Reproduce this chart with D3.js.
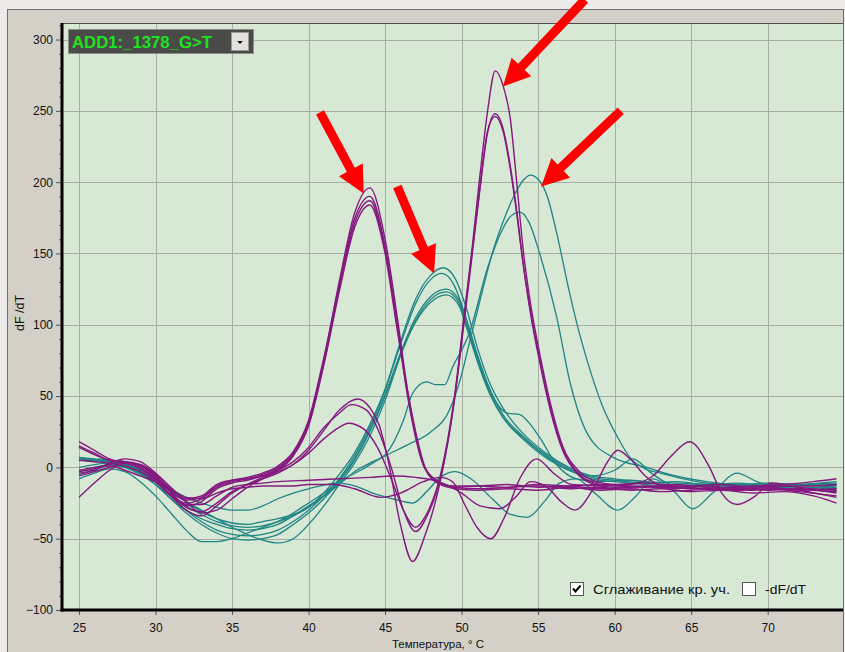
<!DOCTYPE html>
<html>
<head>
<meta charset="utf-8">
<script src="https://cdn.jsdelivr.net/npm/d3@7"></script>
<style>
  html, body { margin: 0; padding: 0; background: #ecebe9; }
  svg { display: block; font-family: "Liberation Sans", Arial, sans-serif; }
</style>
</head>
<body>
<svg id="chart" width="845" height="652"></svg>
<script>
// ---- Melt-curve derivative data: each curve is a list of [temperature °C, dF/dT] ----

// Axis ticks
const tempTicks = [25, 30, 35, 40, 45, 50, 55, 60, 65, 70];
const dfTicks = [-100, -50, 0, 50, 100, 150, 200, 250, 300];
const dfMinorTicks = [-90, -80, -70, -60, -40, -30, -20, -10, 10, 20, 30, 40, 60, 70, 80, 90,
  110, 120, 130, 140, 160, 170, 180, 190, 210, 220, 230, 240, 260, 270, 280, 290, 310];

// Purple channel: low-melting peak (~44 °C)
const purpleLow1 = [[25,18],[26,12],[27,6],[28,3],[29,-1],[30,-9],[31,-19],[32,-25],[33,-22],[34,-14],[35,-10],[36,-8],[37,-5],[38,0],[39,10],[40,32],[41,75],[42,130],[43,178],[44,196],[45,160],[45.8,105],[46.5,52],[47.5,2],[48.5,-10],[49.5,-14],[51,-15],[53,-14],[55,-13],[57,-15],[59,-14],[61,-16],[63,-15],[65,-17],[67,-16],[69,-18],[71,-17],[73,-20],[74.5,-25]];
const purpleLow2 = [[25,15],[26,10],[27,5],[28,4],[29,1],[30,-7],[31,-17],[32,-23],[33,-21],[34,-13],[35,-9],[36,-7],[37,-4],[38,1],[39,11],[40,33],[41,77],[42,128],[43,174],[44,190],[45,155],[45.8,100],[46.5,50],[47.6,0],[48.6,-11],[49.6,-13],[51,-13],[53,-12],[55,-14],[57,-13],[59,-15],[61,-14],[63,-13],[65,-15],[67,-14],[69,-13],[71,-12],[73,-10],[74.5,-8]];
const purpleLow3 = [[25,-3],[26,-1],[27,2],[28,4],[29,2],[30,-6],[31,-18],[32,-27],[33,-24],[34,-15],[35,-11],[36,-9],[37,-6],[38,-1],[39,9],[40,30],[41,73],[42,125],[43,171],[44,187],[45,152],[45.8,98],[46.5,48],[47.6,-1],[48.6,-12],[49.6,-15],[51,-16],[53,-15],[55,-16],[57,-14],[59,-16],[61,-15],[63,-17],[65,-16],[67,-15],[69,-16],[71,-15],[73,-16],[74.5,-17]];
const purpleLow4 = [[25,-6],[26,-3],[27,0],[28,3],[29,2],[30,-5],[31,-15],[32,-22],[33,-20],[34,-12],[35,-9],[36,-8],[37,-6],[38,-2],[39,8],[40,29],[41,72],[42,123],[43,168],[44,184],[45,150],[45.8,96],[46.6,46],[47.7,-2],[48.7,-12],[49.7,-14],[51,-13],[53,-14],[55,-12],[57,-13],[59,-12],[61,-13],[63,-14],[65,-13],[67,-12],[69,-14],[71,-13],[73,-13],[74.5,-12]];

// Purple channel: high-melting peak (~52 °C) with a shoulder near 43 °C
const purpleHigh1 = [[25,-4],[26,-2],[27,3],[28,6],[29,4],[30,-4],[31,-14],[32,-24],[33,-32],[34,-30],[35,-22],[36,-14],[37,-8],[38,-3],[39,2],[40,12],[41,26],[42,40],[43.2,48],[44,42],[44.6,30],[45.2,5],[46,-40],[46.8,-66],[47.6,-48],[48.6,-10],[49.5,45],[50.2,110],[50.7,155],[51.2,205],[51.7,250],[52.2,278],[52.7,268],[53.2,243],[53.6,200],[54,155],[54.5,115],[55.1,80],[55.8,45],[56.6,15],[57.7,-3],[58.8,-10],[60,-12],[62,-11],[64,-13],[66,-15],[68,-14],[70,-16],[72,-15],[74.5,-18]];
const purpleHigh2 = [[25,14],[26,9],[27,5],[28,4],[29,0],[30,-8],[31,-20],[32,-30],[33,-34],[34,-27],[35,-18],[36,-12],[37,-7],[38,-2],[39,4],[40,14],[41,28],[42,38],[42.8,44],[43.8,40],[44.6,25],[45.4,0],[46.2,-30],[47,-45],[47.7,-35],[48.6,-8],[49.5,45],[50.2,105],[50.7,150],[51.2,195],[51.7,235],[52.2,248],[52.7,238],[53.2,210],[53.6,180],[54,145],[54.5,110],[55.1,76],[55.8,42],[56.6,13],[57.6,-4],[58.7,-11],[60,-13],[62,-14],[64,-12],[66,-14],[68,-16],[70,-15],[72,-17],[74.5,-20]];
const purpleHigh3 = [[25,-21],[26,-11],[27,-2],[28,3],[29,1],[30,-6],[31,-17],[32,-28],[33,-31],[34,-25],[35,-17],[36,-12],[37,-8],[38,-4],[39,2],[40,10],[41,20],[42,28],[42.6,31],[43.6,27],[44.5,14],[45.4,-8],[46.2,-30],[47,-42],[47.7,-33],[48.6,-6],[49.5,47],[50.2,108],[50.7,152],[51.2,197],[51.7,236],[52.2,246],[52.7,236],[53.2,208],[53.6,178],[54,144],[54.5,108],[55.1,74],[55.8,40],[56.6,12],[57.6,-5],[58.7,-12],[60,-14],[62,-13],[64,-15],[66,-13],[68,-15],[70,-14],[72,-16],[74.5,-15]];

// Purple channel: flat wells with ripple
const purpleFlat1 = [[25,-2],[26,0],[27,1],[28,-2],[29,-6],[30,-10],[31,-16],[32,-21],[33,-22],[34,-18],[35,-15],[36,-14],[37,-13],[38,-13],[39,-13],[40,-12],[41.6,-12],[43,-15],[44.7,-21],[46,-18],[47.5,-10],[48.6,-7],[49.4,-10],[50.2,-26],[51,-42],[51.9,-50],[52.8,-35],[53.8,-8],[54.9,6],[56,-4],[57.2,-12],[59,-13],[61,-12],[62.5,-6],[63.7,8],[64.9,18],[66.2,0],[67,-18],[68,-26],[69.2,-20],[70.2,-11],[72,-14],[74.5,-16]];
const purpleFlat2 = [[25,5],[26,4],[27,3],[28,1],[29,-3],[30,-10],[31,-20],[32,-26],[33,-26],[34,-20],[35,-14],[36,-12],[37,-11],[38,-10],[40,-9],[42,-8],[44,-7],[45.5,-6],[47,-7],[48.5,-10],[50,-18],[51.2,-27],[52.5,-29],[53.6,-20],[54.5,-10],[55.6,-14],[56.5,-24],[57.4,-30],[58.6,-15],[59.6,5],[60.2,12],[61,6],[62,-6],[63.5,-14],[66,-15],[68,-16],[70,-14],[72,-16],[74.5,-21]];

// Teal channel: peak near 49 °C
const tealMid1 = [[25,7],[26,6],[27,5],[28,3],[29,-1],[30,-8],[31,-16],[32,-24],[33,-31],[34,-36],[35,-39],[36,-40],[37,-38],[38,-36],[39,-33],[40,-28],[41,-18],[42,-5],[43,10],[44,30],[45,55],[46,88],[47,118],[48,135],[48.8,140],[49.6,132],[50.3,112],[51,85],[51.8,60],[52.8,40],[54,24],[55.5,10],[57,0],[58.5,-6],[60,-8],[62,-10],[64,-11],[66,-12],[68,-13],[70,-14],[72,-13],[74.5,-12]];
const tealMid2 = [[25,5],[26,5],[27,4],[28,2],[29,-2],[30,-10],[31,-20],[32,-30],[33,-38],[34,-44],[35,-47],[36,-48],[37,-47],[38,-44],[39,-38],[40,-30],[41,-20],[42,-8],[43,8],[44,28],[45,54],[46,86],[47,115],[48,132],[48.7,136],[49.5,128],[50.2,108],[51,80],[51.8,56],[52.5,42],[53,38],[53.8,37],[54.5,30],[55.1,21],[56.2,2],[57.5,-8],[59,-10],[61,-9],[63,-12],[65,-14],[67,-12],[69,-13],[71,-15],[73,-14],[74.5,-13]];
const tealMid3 = [[25,0],[26,2],[27,3],[28,2],[29,-3],[30,-12],[31,-22],[32,-32],[33,-40],[34,-46],[35,-50],[36,-51],[37,-50],[38,-47],[39,-40],[40,-32],[41,-22],[42,-10],[43,5],[44,25],[45,50],[46,80],[47,105],[48,120],[49,125],[49.8,118],[50.5,95],[51.2,72],[51.9,53],[52.7,37],[54,22],[55.6,8],[57,-1],[58.5,-7],[60,-9],[62,-11],[64,-10],[66,-12],[68,-11],[70,-13],[72,-12],[74.5,-11]];
const tealMid4 = [[25,-5],[26,-2],[27,1],[28,0],[29,-4],[30,-10],[31,-17],[32,-24],[33,-30],[34,-36],[35,-42],[36,-47],[37,-51],[38,-53],[39,-50],[40,-40],[41,-27],[42,-12],[43,3],[44,22],[45,47],[46,78],[47,103],[48,118],[49,123],[49.8,116],[50.5,93],[51.2,70],[51.9,51],[52.7,35],[54,20],[55.6,6],[57,-2],[58.5,-8],[60,-10],[62,-12],[64,-14],[66,-13],[68,-15],[70,-14],[72,-15],[74.5,-16]];
const tealMid5 = [[25,-8],[26,-4],[27,-1],[28,-3],[29,-10],[30,-20],[31,-32],[32,-44],[33,-52],[34,-52],[35,-50],[36,-46],[37,-42],[38,-38],[39,-34],[40,-28],[41,-20],[42,-9],[43,6],[44,26],[45,51],[46,79],[47,102],[48,116],[49,121],[49.8,114],[50.5,92],[51.2,69],[51.9,50],[52.7,35],[54,21],[55.6,7],[57,-2],[58.5,-6],[60,-2],[61.2,6],[62.4,-4],[64,-13],[66,-12],[68,-14],[70,-12],[72,-14],[74.5,-14]];

// Teal channel: peaks near 54 °C
const tealHigh1 = [[25,7],[26,5],[27,3],[28,0],[29,-5],[30,-12],[31,-20],[32,-27],[33,-33],[34,-38],[35,-41],[36,-42],[37,-41],[38,-38],[39,-32],[40,-25],[41,-18],[42,-10],[43.4,-2],[45,8],[46.5,16],[48,25],[49.2,40],[50,65],[50.5,87],[51.2,117],[52,150],[52.7,172],[53.5,192],[54,201],[54.5,205],[55,202],[55.6,190],[56.2,165],[57,125],[57.6,98],[58.2,75],[59.2,43],[60.2,21],[61,7],[62,-1],[63,-4],[64.5,-8],[66,-11],[68,-12],[70,-13],[72,-14],[74.5,-15]];
const tealHigh2 = [[25,-3],[26,0],[27,2],[28,1],[29,-4],[30,-12],[31,-22],[32,-30],[33,-36],[34,-40],[35,-43],[36,-44],[37,-43],[38,-40],[39,-34],[40,-27],[41,-20],[42,-12],[43,-3],[44,3],[45.1,10],[46.2,33],[46.8,52],[47.7,60],[48.3,58],[48.9,58],[49.4,70],[50.5,94],[51.7,140],[52.5,163],[53.2,176],[53.8,179],[54.4,172],[55.1,150],[56.2,106],[57.1,59],[58.2,24],[59.9,7],[62.1,0],[64,-6],[66,-10],[68,-12],[70,-11],[72,-12],[74.5,-13]];

// Teal channel: flat well with ripple
const tealFlat1 = [[25,6],[26,5],[27,4],[28,2],[29,-2],[30,-8],[31,-15],[32,-21],[33,-25],[34,-28],[35,-30],[36,-30],[37,-27],[38,-22],[39,-18],[40,-15],[42,-11],[43,-13],[44.2,-18],[45.5,-22],[46.8,-25],[47.8,-16],[48.6,-7],[49.6,-3],[50.6,-8],[52,-22],[53.2,-33],[54.3,-35],[55.4,-24],[56.4,-11],[57.5,-8],[58.7,-18],[60.2,-30],[61.4,-20],[62.5,-8],[63.8,-16],[65.1,-29],[66.4,-18],[68,-4],[69.3,-10],[71,-14],[72.5,-12],[74.5,-10]];

const tealCurves = [tealFlat1, tealHigh1, tealHigh2, tealMid1, tealMid2, tealMid3, tealMid4, tealMid5];
const purpleCurves = [purpleFlat1, purpleFlat2, purpleLow1, purpleLow2, purpleLow3, purpleLow4, purpleHigh1, purpleHigh2, purpleHigh3];

// Peak pointers: [temperature, dF/dT] for tail and tip
const arrows = [
  { from: [40.75, 249], to: [43.6, 192] },
  { from: [45.8, 197], to: [48.2, 136] },
  { from: [58.05, 328], to: [52.7, 267] },
  { from: [60.4, 250], to: [55.2, 197] }
];

const assayName = "ADD1:_1378_G>T";
const xTitle = "Температура, ° С";
const yTitle = "dF /dT";
const legendItems = [
  { label: "Сглаживание кр. уч.", checked: true, width: 137 },
  { label: "-dF/dT", checked: false, width: 41 }
];

// ---- Layout ----
const svg = d3.select("#chart");
const plot = { left: 62, right: 843, top: 23, bottom: 610 };

const x = d3.scaleLinear().domain([23.89, 74.92]).range([plot.left, plot.right]);
const y = d3.scaleLinear().domain([-100, 311.6]).range([plot.bottom, plot.top]);

// Window panel
svg.append("rect").attr("x", 7.5).attr("y", 9.5).attr("width", 836).attr("height", 660)
  .attr("fill", "#d4d0c8").attr("stroke", "#6e6e6e");

// Plot background
svg.append("rect").attr("x", plot.left).attr("y", plot.top)
  .attr("width", plot.right - plot.left).attr("height", plot.bottom - plot.top)
  .attr("fill", "#d7e8d5");

// Grid
const grid = svg.append("g");
grid.selectAll("line.v").data(tempTicks).join("line")
  .attr("x1", d => Math.round(x(d)) + 0.5).attr("x2", d => Math.round(x(d)) + 0.5)
  .attr("y1", plot.top).attr("y2", plot.bottom)
  .attr("stroke", "#a6aea4").attr("stroke-width", 1);
grid.selectAll("line.h").data(dfTicks).join("line")
  .attr("y1", d => Math.round(y(d)) + 0.5).attr("y2", d => Math.round(y(d)) + 0.5)
  .attr("x1", plot.left).attr("x2", plot.right)
  .attr("stroke", "#a6aea4").attr("stroke-width", 1);

// Top edge of plotting area
svg.append("line").attr("x1", plot.left).attr("x2", plot.right)
  .attr("y1", plot.top + 0.5).attr("y2", plot.top + 0.5).attr("stroke", "#4d4d4d");

// Curves
svg.append("clipPath").attr("id", "plotClip").append("rect")
  .attr("x", plot.left).attr("y", plot.top)
  .attr("width", plot.right - plot.left).attr("height", plot.bottom - plot.top);

const line = d3.line().x(d => x(d[0])).y(d => y(d[1])).curve(d3.curveMonotoneX);
const curves = svg.append("g").attr("clip-path", "url(#plotClip)").attr("fill", "none");
curves.selectAll("path.teal").data(tealCurves).join("path")
  .attr("class", "teal").attr("d", line)
  .attr("stroke", "#1f8484").attr("stroke-width", 1.3);
curves.selectAll("path.purple").data(purpleCurves).join("path")
  .attr("class", "purple").attr("d", line)
  .attr("stroke", "#84187f").attr("stroke-width", 1.4);

// Y axis
const yAxis = svg.append("g").attr("transform", `translate(${plot.left},0)`)
  .call(d3.axisLeft(y).tickValues(dfTicks).tickSize(6).tickPadding(3).tickFormat(d3.format("d")));
yAxis.append("g").call(d3.axisLeft(y).tickValues(dfMinorTicks).tickSize(3).tickFormat(""));
yAxis.selectAll(".domain").remove();
yAxis.selectAll("line").attr("stroke", "#555");
yAxis.selectAll("text").attr("font-size", 12).attr("fill", "#111")
  .attr("font-family", "'Liberation Sans', Arial, sans-serif");

// X axis
const xAxis = svg.append("g").attr("transform", `translate(0,${plot.bottom})`)
  .call(d3.axisBottom(x).tickValues(tempTicks).tickSize(5).tickPadding(8).tickFormat(d3.format("d")));
xAxis.selectAll(".domain").remove();
xAxis.selectAll("line").attr("stroke", "#555");
xAxis.selectAll("text").attr("font-size", 12).attr("fill", "#111")
  .attr("font-family", "'Liberation Sans', Arial, sans-serif");

// Heavy axis lines
svg.append("line").attr("x1", plot.left).attr("x2", plot.left)
  .attr("y1", plot.top).attr("y2", plot.bottom + 1.5)
  .attr("stroke", "#000").attr("stroke-width", 3);
svg.append("line").attr("x1", plot.left - 1.5).attr("x2", plot.right)
  .attr("y1", plot.bottom).attr("y2", plot.bottom)
  .attr("stroke", "#000").attr("stroke-width", 3);

// Axis titles
svg.append("text").attr("x", 438).attr("y", 648).attr("text-anchor", "middle")
  .attr("font-size", 11.5).attr("fill", "#111").text(xTitle);
svg.append("text").attr("transform", "translate(24,313) rotate(-90)")
  .attr("text-anchor", "middle").attr("font-size", 12.5).attr("fill", "#111").text(yTitle);

// Legend check boxes
const legendX = [570, 742];
const legend = svg.append("g");
legendItems.forEach((item, i) => {
  const g = legend.append("g").attr("transform", `translate(${legendX[i]},582)`);
  g.append("rect").attr("x", 0.5).attr("y", 0.5).attr("width", 13).attr("height", 13)
    .attr("fill", "#fff").attr("stroke", "#555");
  if (item.checked) {
    g.append("path").attr("d", "M3,6.5 L5.5,9.5 L10.5,3.5").attr("fill", "none")
      .attr("stroke", "#000").attr("stroke-width", 2);
  }
  g.append("text").attr("x", 23).attr("y", 12).attr("font-size", 13.5)
    .attr("fill", "#111").attr("textLength", item.width).attr("lengthAdjust", "spacingAndGlyphs")
    .text(item.label);
});

// Assay selector
const sel = svg.append("g");
sel.append("rect").attr("x", 68.5).attr("y", 29.5).attr("width", 185).attr("height", 24)
  .attr("fill", "#4a4a48").attr("stroke", "#8d8d8a");
sel.append("text").attr("x", 72).attr("y", 48).attr("font-size", 16.5).attr("font-weight", "bold")
  .attr("fill", "#1fe21f").attr("textLength", 140).attr("lengthAdjust", "spacingAndGlyphs")
  .text(assayName);
sel.append("rect").attr("x", 231.5).attr("y", 32.5).attr("width", 17).attr("height", 18)
  .attr("fill", "#e4e2de").attr("stroke", "#9a9a96");
sel.append("path").attr("d", "M237,41 L243,41 L240,44 Z").attr("fill", "#111");

// Peak pointers
const arrowLayer = svg.append("g").attr("fill", "#ff0000");
arrows.forEach(a => {
  const x0 = x(a.from[0]), y0 = y(a.from[1]);
  const x1 = x(a.to[0]), y1 = y(a.to[1]);
  const dx = x1 - x0, dy = y1 - y0, len = Math.hypot(dx, dy);
  const ux = dx / len, uy = dy / len, nx = -uy, ny = ux;
  const shaft = 4.5, headHalf = 13.5, headLen = 27;
  const bx = x1 - ux * headLen, by = y1 - uy * headLen;
  const pts = [
    [x0 + nx * shaft, y0 + ny * shaft],
    [bx + nx * shaft, by + ny * shaft],
    [bx + nx * headHalf, by + ny * headHalf],
    [x1, y1],
    [bx - nx * headHalf, by - ny * headHalf],
    [bx - nx * shaft, by - ny * shaft],
    [x0 - nx * shaft, y0 - ny * shaft]
  ];
  arrowLayer.append("polygon").attr("points", pts.map(p => p.join(",")).join(" "));
});
</script>
</body>
</html>
